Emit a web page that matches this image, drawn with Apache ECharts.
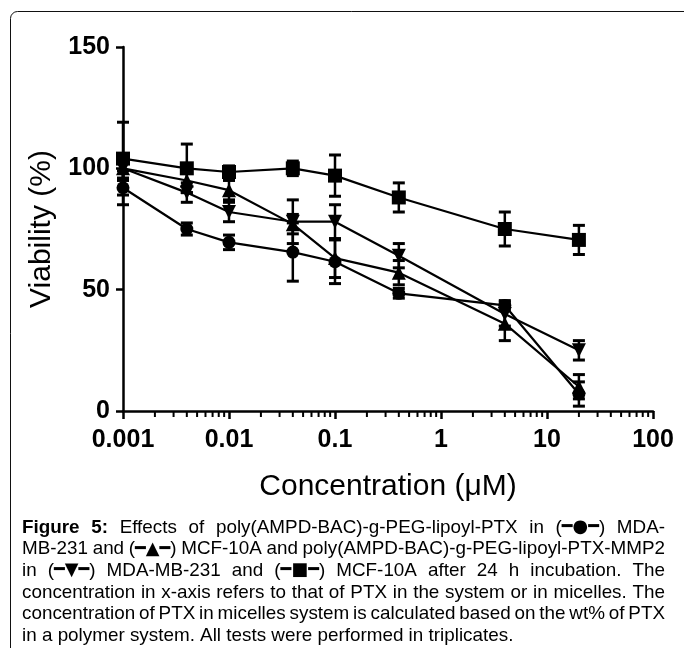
<!DOCTYPE html>
<html>
<head>
<meta charset="utf-8">
<script src="https://cdn.jsdelivr.net/npm/echarts@6/dist/echarts.min.js"></script>
<style>
  html, body { margin: 0; padding: 0; background: #fff; }
  #main { width: 684px; height: 648px; }
</style>
</head>
<body>
<div id="main"></div>
<script>
// concentrations (uM)
var concX = [0.001, 0.004, 0.01, 0.04, 0.1, 0.4, 4, 20];

// PTX in MDA-MB-231 (circle)
var ptxMda = [92, 75, 69.5, 65.5, 61.5, 48.5, 43.5, 7];
var ptxMdaErr = [7, 2.5, 3, 12, 9, 2, 2, 5];
// PTX in MCF-10A (triangle)
var ptxMcf = [100, 95, 91, 77, 63, 57, 36, 10];
var ptxMcfErr = [5, 5, 4, 4, 8, 5, 7, 5];
// PTX-MMP2 in MDA-MB-231 (inverted triangle)
var mmpMda = [100, 90, 82, 78, 78, 64, 40, 25];
var mmpMdaErr = [4, 4, 4, 9, 7, 5, 5, 4];
// PTX-MMP2 in MCF-10A (square)
var mmpMcf = [104, 100, 98.5, 100, 97, 88, 75, 70.5];
var mmpMcfErr = [15, 10, 2.5, 3, 8.5, 6, 7, 6];

var xTickLabels = ['0.001', '0.01', '0.1', '1', '10', '100'];
var yTicks = [0, 50, 100, 150];
var minorSteps = [2, 3, 4, 5, 6, 7, 8, 9];

var capLines = [
  'Figure 5: Effects of poly(AMPD-BAC)-g-PEG-lipoyl-PTX in (\u25CF) MDA-',
  'MB-231 and (\u25B2) MCF-10A and poly(AMPD-BAC)-g-PEG-lipoyl-PTX-MMP2',
  'in (\u25BC) MDA-MB-231 and (\u25A0) MCF-10A after 24 h incubation. The',
  'concentration in x-axis refers to that of PTX in the system or in micelles. The',
  'concentration of PTX in micelles system is calculated based on the wt% of PTX',
  'in a polymer system. All tests were performed in triplicates.'
];

var myChart = echarts.init(document.getElementById('main'));

function pairs(ys) {
  return concX.map(function (x, i) { return [x, ys[i]]; });
}
function errPairs(ys, es) {
  return concX.map(function (x, i) { return [x, ys[i] - es[i], ys[i] + es[i]]; });
}

// minor ticks on the log axis (2..9 in each decade)
var minorData = [];
for (var d = 0; d < xTickLabels.length - 1; d++) {
  var base = parseFloat(xTickLabels[d]);
  minorSteps.forEach(function (k) { minorData.push([k * base, 0]); });
}

function renderErr(params, api) {
  var x = api.value(0);
  var p1 = api.coord([x, api.value(2)]);
  var p2 = api.coord([x, api.value(1)]);
  var cw = 6;
  return {
    type: 'group',
    children: [
      { type: 'line', shape: { x1: p1[0], y1: p1[1], x2: p2[0], y2: p2[1] }, style: { stroke: '#000', lineWidth: 2.5 } },
      { type: 'line', shape: { x1: p1[0] - cw, y1: p1[1], x2: p1[0] + cw, y2: p1[1] }, style: { stroke: '#000', lineWidth: 3 } },
      { type: 'line', shape: { x1: p2[0] - cw, y1: p2[1], x2: p2[0] + cw, y2: p2[1] }, style: { stroke: '#000', lineWidth: 3 } }
    ]
  };
}

function renderMinor(params, api) {
  var p = api.coord([api.value(0), 0]);
  return { type: 'line', shape: { x1: p[0], y1: p[1], x2: p[0], y2: p[1] + 6 }, style: { stroke: '#000', lineWidth: 2 } };
}

function lineSeries(name, ys, symbol, size, rotate) {
  return {
    name: name, type: 'line', data: pairs(ys),
    symbol: symbol, symbolSize: size, symbolRotate: rotate || 0,
    lineStyle: { color: '#000', width: 2.2 },
    itemStyle: { color: '#000' },
    z: 5
  };
}
function errSeries(ys, es) {
  return { type: 'custom', renderItem: renderErr, data: errPairs(ys, es), encode: { x: 0, y: [1, 2] }, z: 4 };
}

// caption, justified by hand
var ctx = document.createElement('canvas').getContext('2d');
var capSize = 19;
var capFam = '"Liberation Sans", Arial, sans-serif';
var symFam = '"DejaVu Sans", sans-serif';
function measure(str, font) { ctx.font = font; return ctx.measureText(str).width; }
var symMap = { '\u25CF': '\u2501\u25CF\u2501', '\u25B2': '\u2501\u25B2\u2501', '\u25BC': '\u2501\u25BC\u2501', '\u25A0': '\u2501\u25A0\u2501' };
var fontN = capSize + 'px ' + capFam;
var fontB = 'bold ' + capSize + 'px ' + capFam;
var fontS = (capSize - 1) + 'px ' + symFam;
var sx = 636 / measure(capLines[3], fontN);
if (sx > 1) sx = 1;
var capLeft = 22, capRight = 665;
var graphics = [{
  type: 'rect', shape: { x: 10.5, y: 11.5, width: 720, height: 720, r: 7 },
  style: { fill: 'none', stroke: '#111', lineWidth: 1 }, silent: true
}];
capLines.forEach(function (line, li) {
  var words = line.split(' ');
  var toks = words.map(function (w, wi) {
    var m = w.match(/^\((.)\)$/);
    if (m && symMap[m[1]]) {
      var s = symMap[m[1]];
      return {
        w: (measure('(', fontN) * 2 + measure(s, fontS)) * sx,
        style: { text: '{p|(}{s|' + s + '}{p|)}', font: fontN, rich: { p: { font: fontN }, s: { font: fontS } } }
      };
    }
    var f = (li === 0 && wi < 2) ? fontB : fontN;
    return { w: measure(w, f) * sx, style: { text: w, font: f } };
  });
  var total = toks.reduce(function (a, t) { return a + t.w; }, 0);
  var gap = measure(' ', fontN) * sx;
  if (li < capLines.length - 1) gap = (capRight - capLeft - total) / (toks.length - 1);
  var x = capLeft;
  var y = 527.5 + li * 21.6;
  toks.forEach(function (t) {
    var st = t.style;
    st.fill = '#000';
    st.verticalAlign = 'middle';
    st.align = 'left';
    graphics.push({ type: 'text', x: x, y: y, scaleX: sx, style: st, silent: true });
    x += t.w + gap;
  });
});

var option = {
  animation: false,
  backgroundColor: '#fff',
  textStyle: { fontFamily: 'Liberation Sans' },
  grid: { left: 123, top: 47, width: 530, height: 364, containLabel: false, outerBoundsMode: 'none' },
  xAxis: {
    type: 'log', logBase: 10, min: 0.001, max: 100,
    name: 'Concentration (\u03BCM)', nameLocation: 'middle', nameGap: 61,
    nameTextStyle: { color: '#000', fontSize: 30, fontFamily: 'Liberation Sans' },
    axisLine: { show: true, onZero: false, lineStyle: { color: '#000', width: 2.5 } },
    axisTick: { show: true, length: 8, lineStyle: { color: '#000', width: 2.5 } },
    axisLabel: {
      color: '#000', fontSize: 25, fontWeight: 'bold', margin: 17,
      formatter: function (v) {
        for (var i = 0; i < xTickLabels.length; i++) {
          if (Math.abs(Math.log10(v) - Math.log10(parseFloat(xTickLabels[i]))) < 1e-6) return xTickLabels[i];
        }
        return '';
      }
    },
    splitLine: { show: false },
    minorTick: { show: false }
  },
  yAxis: {
    type: 'value', min: 0, max: 150, interval: 50,
    name: 'Viability (%)', nameLocation: 'middle', nameGap: 66,
    nameTextStyle: { color: '#000', fontSize: 30, fontFamily: 'Liberation Sans' },
    axisLine: { show: true, lineStyle: { color: '#000', width: 2.5 } },
    axisTick: { show: true, length: 7, lineStyle: { color: '#000', width: 2.5 } },
    axisLabel: {
      color: '#000', fontSize: 25, fontWeight: 'bold', margin: 13,
      formatter: function (v) { return yTicks.indexOf(v) >= 0 ? String(v) : ''; }
    },
    splitLine: { show: false }
  },
  graphic: graphics,
  series: [
    { type: 'custom', renderItem: renderMinor, data: minorData, encode: { x: 0, y: 1 }, z: 3, silent: true },
    errSeries(ptxMda, ptxMdaErr),
    errSeries(ptxMcf, ptxMcfErr),
    errSeries(mmpMda, mmpMdaErr),
    errSeries(mmpMcf, mmpMcfErr),
    lineSeries('PTX MDA-MB-231', ptxMda, 'circle', 13),
    lineSeries('PTX MCF-10A', ptxMcf, 'triangle', 14),
    lineSeries('PTX-MMP2 MDA-MB-231', mmpMda, 'triangle', 14, 180),
    lineSeries('PTX-MMP2 MCF-10A', mmpMcf, 'rect', 14)
  ]
};
myChart.setOption(option);
</script>
</body>
</html>
